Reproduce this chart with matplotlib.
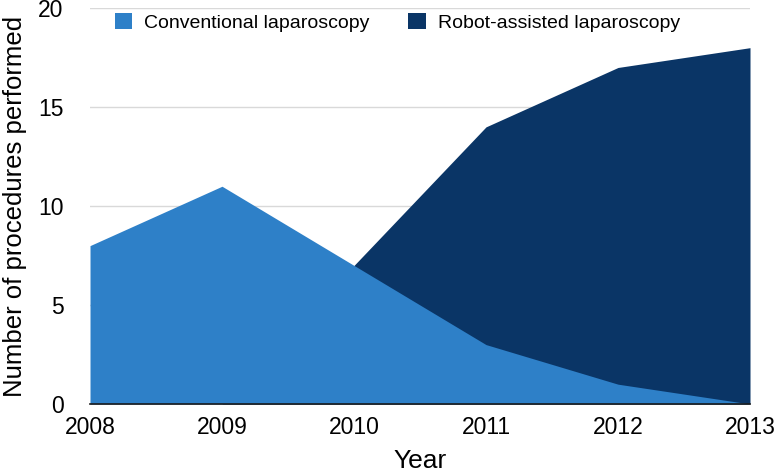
import numpy as np
import matplotlib.pyplot as plt
from matplotlib.patches import Patch

plt.rcParams['font.family'] = ['Liberation Sans', 'DejaVu Sans']

### Data:
years = [2008, 2009, 2010, 2011, 2012, 2013]
conventional = [8, 11, 7, 3, 1, 0]
robot = [0, 0, 7, 14, 17, 18]

light_blue = '#2e80c8'
dark_blue = '#0a3566'

fig = plt.figure(figsize=(7.74, 4.76), dpi=100)
ax = fig.add_axes([0.1163, 0.1513, 0.8527, 0.8317])

# robot-assisted behind, conventional drawn on top (overlapping, not stacked)
ax.fill_between(years, robot, 0, color=dark_blue, linewidth=0, zorder=2)
ax.fill_between(years, conventional, 0, color=light_blue, linewidth=0, zorder=3)

ax.set_xlim(years[0], years[-1])
ax.set_ylim(0, 20)
ax.set_xticks(years)
ax.set_yticks([0, 5, 10, 15, 20])
ax.yaxis.grid(True, color='#d9d9d9', linewidth=1)
ax.set_axisbelow(True)

for side in ['left', 'right', 'top']:
    ax.spines[side].set_visible(False)
ax.spines['bottom'].set_color('#1a1a1a')
ax.spines['bottom'].set_linewidth(1.2)
ax.spines['bottom'].set_zorder(5)

ax.tick_params(axis='both', length=0, labelsize=16.5)
ax.tick_params(axis='x', pad=9)
ax.tick_params(axis='y', pad=19)

ax.set_xlabel('Year', fontsize=19, labelpad=7)
ax.set_ylabel('Number of procedures performed', fontsize=18.5, labelpad=8)

handles = [Patch(facecolor=light_blue, edgecolor='none'),
           Patch(facecolor=dark_blue, edgecolor='none')]
ax.legend(handles, ['Conventional laparoscopy', 'Robot-assisted laparoscopy'],
          loc='upper left', bbox_to_anchor=(0.023, 1.012), ncol=2, frameon=False,
          fontsize=14, handlelength=0.9, handleheight=0.9, handletextpad=0.6,
          columnspacing=2.0, borderaxespad=0.1)

plt.savefig('out.png', dpi=100)
